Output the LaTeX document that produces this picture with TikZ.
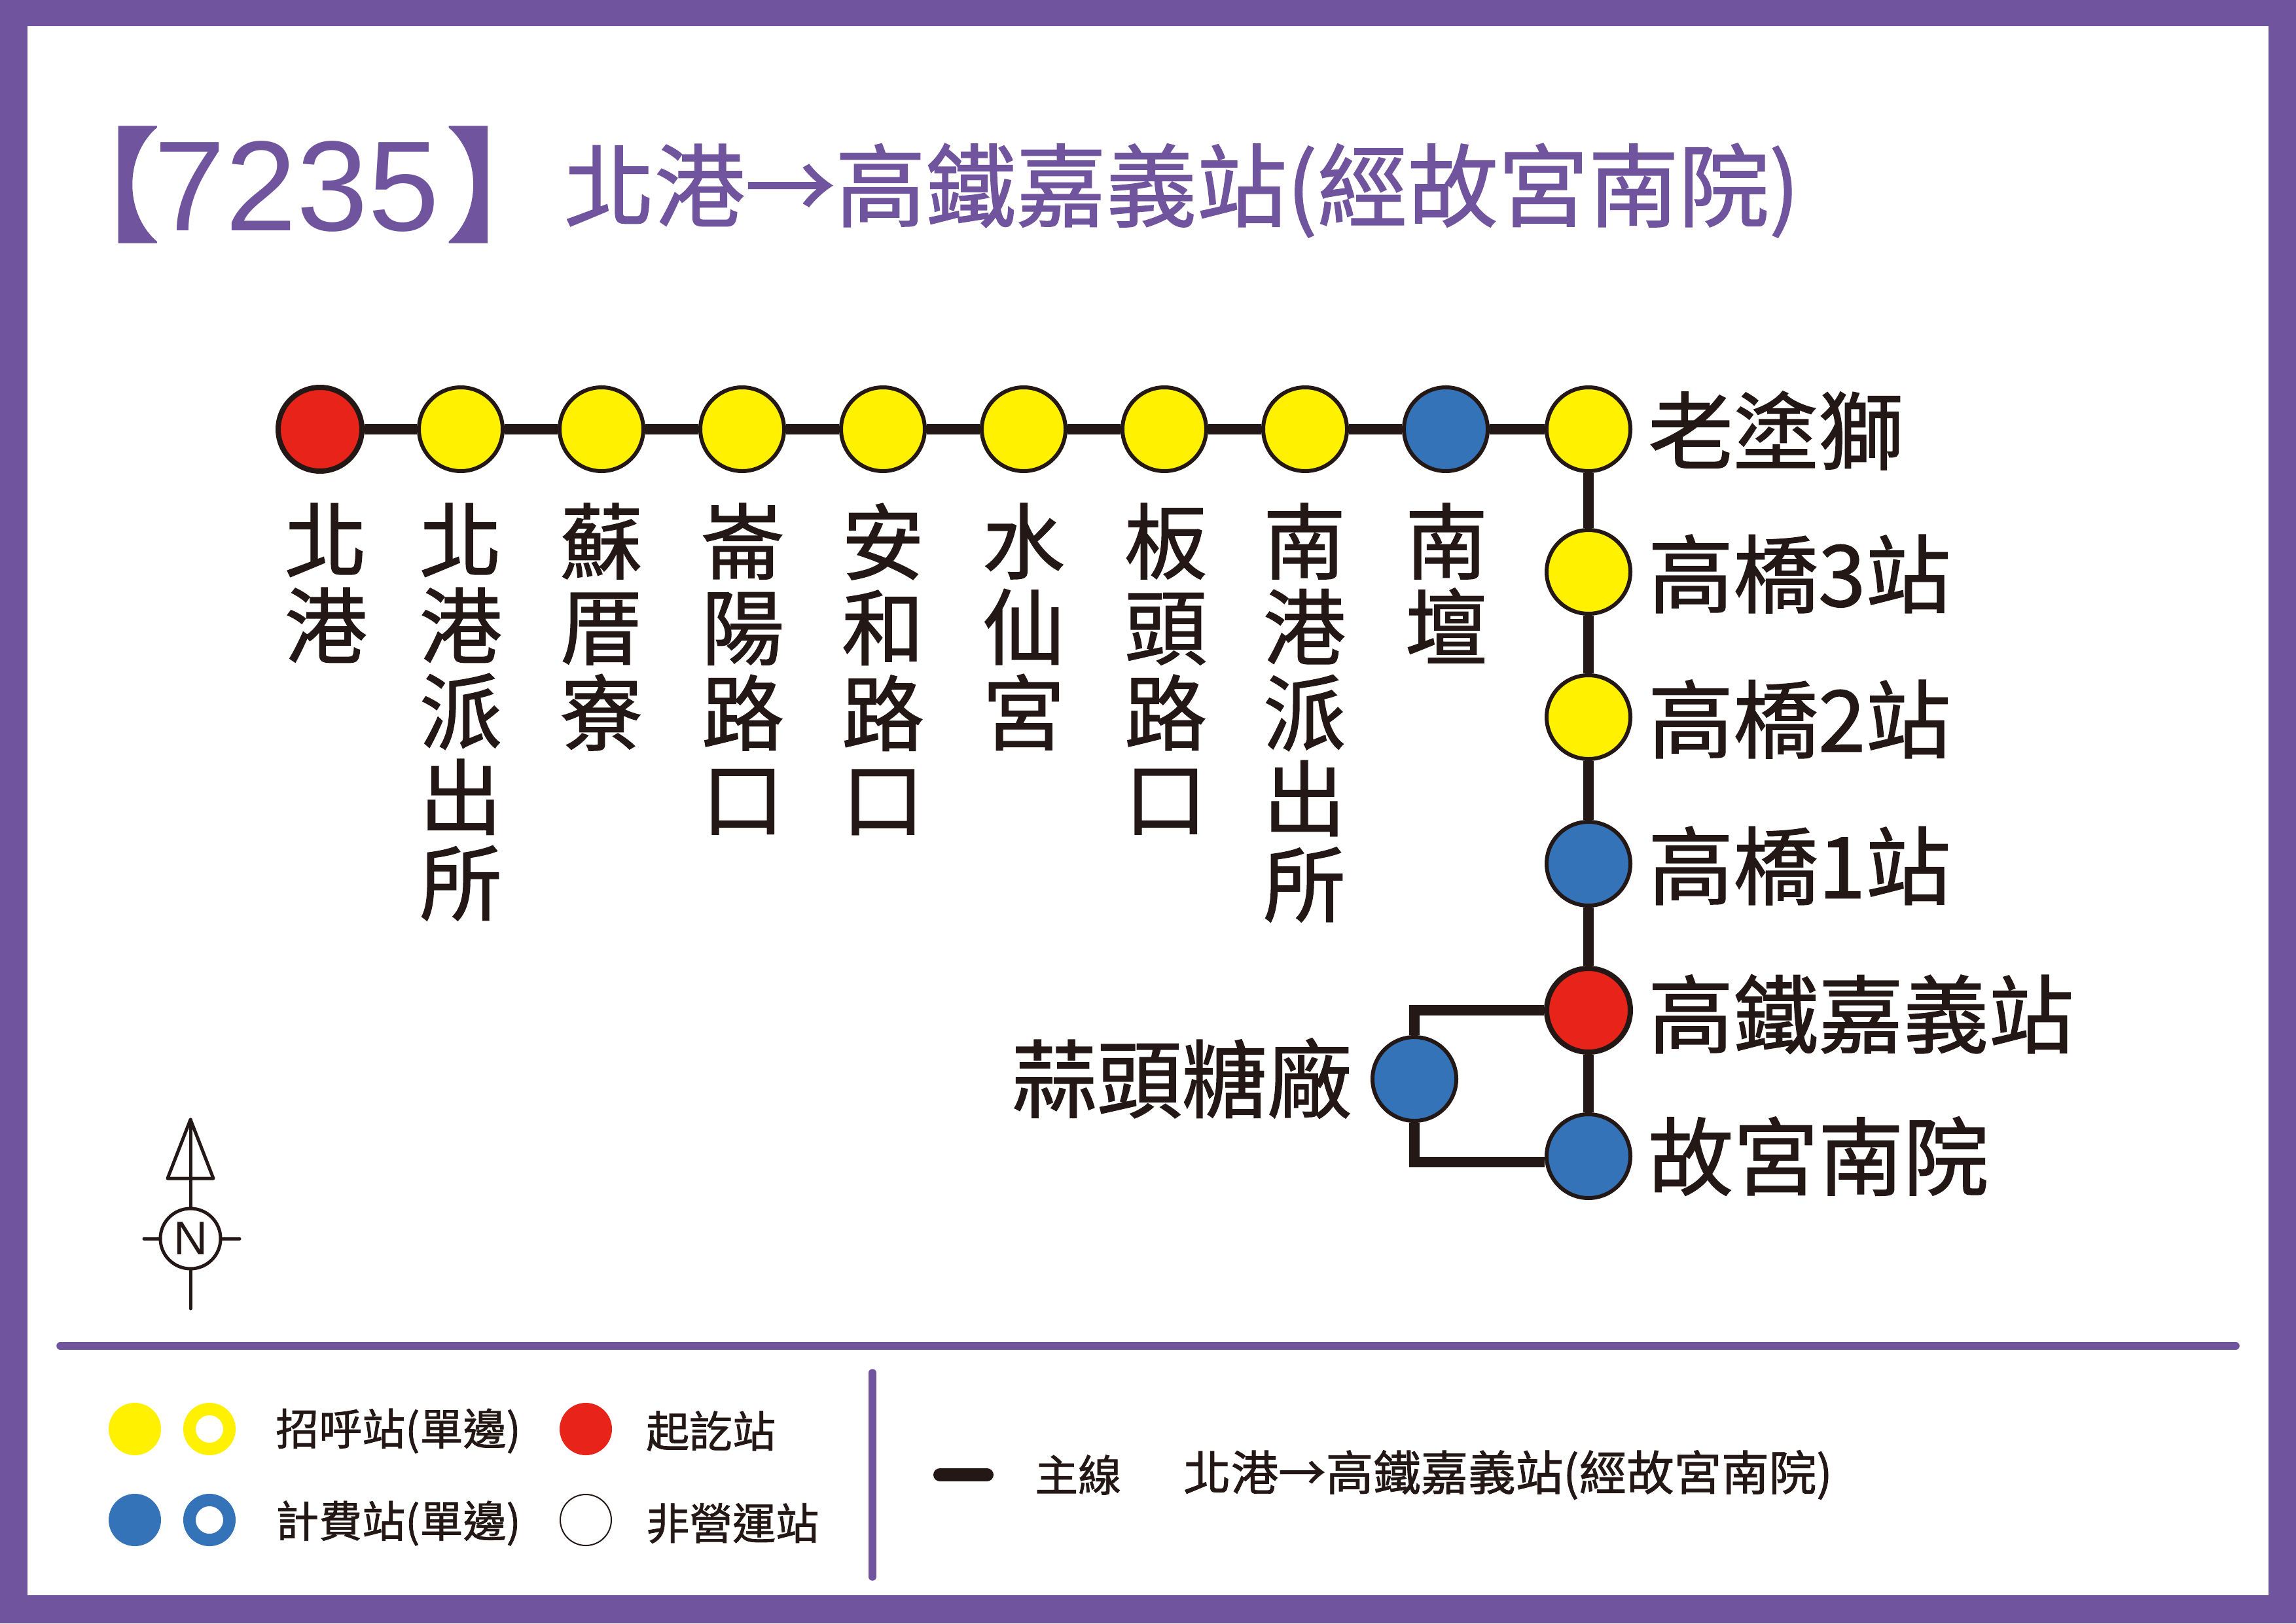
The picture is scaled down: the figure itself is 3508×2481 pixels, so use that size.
\documentclass[tikz,border=0pt]{standalone}
\usepackage{fontspec}
\setmainfont{Noto Sans CJK TC}[FakeBold=1.2]
\newfontfamily\latinfont{Liberation Sans}
\usetikzlibrary{shapes, calc, positioning}
\definecolor{routepurple}{HTML}{71549E}
\definecolor{stopyellow}{HTML}{FFF100}
\definecolor{stopred}{HTML}{E8231A}
\definecolor{stopblue}{HTML}{3573B9}
\definecolor{ink}{HTML}{231815}
\tikzset{
  stn/.style={circle, draw=ink, line width=6pt, minimum size=128pt, inner sep=0pt},
  yellowstn/.style={stn, fill=stopyellow},
  bluestn/.style={stn, fill=stopblue},
  redstn/.style={stn, fill=stopred, line width=8pt},
  mainline/.style={draw=ink, line width=16pt},
  vlabel/.style={anchor=north, align=center, inner sep=0pt, text=ink, font=\fontsize{126}{131}\selectfont},
  hlabel/.style={anchor=west, inner sep=0pt, text=ink, font=\fontsize{130}{134}\selectfont},
  keytext/.style={anchor=west, inner sep=0pt, text=ink, font=\fontsize{66}{70}\selectfont},
  keydot/.style={circle, minimum size=80pt, inner sep=0pt},
  keyring/.style={circle, minimum size=61pt, inner sep=0pt, line width=19pt, fill=white},
  rule/.style={draw=routepurple, line width=11.5pt, line cap=round},
}
\begin{document}
\begin{tikzpicture}[x=1pt, y=-1pt]
    \useasboundingbox (0,0) rectangle (3508,2481);
    \fill[routepurple] (0,0) rectangle (3508,2481);
    \fill[white] (42,40) rectangle (3466,2438);

    % title
    \node[anchor=west, inner sep=0pt, text=routepurple, font=\fontsize{190}{200}\selectfont] at (55,282) (number)
        {【\kern-10pt\raisebox{2pt}{\latinfont\fontsize{196}{200}\selectfont 7235}\kern9pt】\kern-70pt};
    \node[anchor=west, inner sep=0pt, text=routepurple, font=\fontsize{138}{140}\selectfont] at (862,291) (title)
        {北港→高鐵嘉義站(經故宮南院)};

    % stations along the top
    \node[redstn] at (489,656) (beigang) {};
    \node[yellowstn] at (704,656) (police) {};
    \node[yellowstn] at (919,656) (sucuo) {};
    \node[yellowstn] at (1134,656) (lunyang) {};
    \node[yellowstn] at (1349,656) (anhe) {};
    \node[yellowstn] at (1564,656) (shuixian) {};
    \node[yellowstn] at (1779,656) (bantou) {};
    \node[yellowstn] at (1994,656) (nangang) {};
    \node[bluestn] at (2209,656) (nantan) {};
    \node[yellowstn] at (2427,656) (lions) {};

    % stations down the right
    \node[yellowstn] at (2427,874) (bridge3) {};
    \node[yellowstn] at (2427,1096) (bridge2) {};
    \node[bluestn] at (2427,1320) (bridge1) {};
    \node[redstn] at (2427,1544) (hsr) {};
    \node[bluestn] at (2427,1767) (palace) {};
    \node[bluestn] at (2161,1649) (sugar) {};

    \draw[mainline] (beigang) -- (police);
    \draw[mainline] (police) -- (sucuo);
    \draw[mainline] (sucuo) -- (lunyang);
    \draw[mainline] (lunyang) -- (anhe);
    \draw[mainline] (anhe) -- (shuixian);
    \draw[mainline] (shuixian) -- (bantou);
    \draw[mainline] (bantou) -- (nangang);
    \draw[mainline] (nangang) -- (nantan);
    \draw[mainline] (nantan) -- (lions);
    \draw[mainline] (lions) -- (bridge3);
    \draw[mainline] (bridge3) -- (bridge2);
    \draw[mainline] (bridge2) -- (bridge1);
    \draw[mainline] (bridge1) -- (hsr);
    \draw[mainline] (hsr) -- (palace);
    \draw[mainline] (sugar) |- (hsr);
    \draw[mainline] (sugar) |- ($(palace.west)+(0,9)$);

    % labels
    \node[vlabel] at (498,769) (lbbeigang) {北\\港};
    \node[vlabel] at (704,769) (lbpolice) {北\\港\\派\\出\\所};
    \node[vlabel] at (919,769) (lbsucuo) {蘇\\厝\\寮};
    \node[vlabel] at (1135,769) (lblunyang) {崙\\陽\\路\\口};
    \node[vlabel] at (1349,769) (lbanhe) {安\\和\\路\\口};
    \node[vlabel] at (1564,769) (lbshuixian) {水\\仙\\宮};
    \node[vlabel] at (1781,769) (lbbantou) {板\\頭\\路\\口};
    \node[vlabel] at (1993,769) (lbnangang) {南\\港\\派\\出\\所};
    \node[vlabel] at (2210,769) (lbnantan) {南\\壇};
    \node[hlabel] at (2518,658) (lblions) {老塗獅};
    \node[hlabel] at (2518,877) (lbbridge3) {高橋3站};
    \node[hlabel] at (2518,1099) (lbbridge2) {高橋2站};
    \node[hlabel] at (2518,1323) (lbbridge1) {高橋1站};
    \node[hlabel] at (2518,1550) (lbhsr) {高鐵嘉義站};
    \node[hlabel] at (2518,1767) (lbpalace) {故宮南院};
    \node[hlabel, anchor=east] at (2066,1648) (lbsugar) {蒜頭糖廠};

    % compass
    \node[circle, draw=ink, line width=5pt, minimum size=92pt, inner sep=0pt, text=ink,
        font=\latinfont\fontsize{72}{72}\selectfont] at (291,1893) (compass) {N};
    \coordinate (tip) at (291,1711);
    \coordinate (tail) at (291,2000);
    \coordinate (eastend) at (366,1893);
    \coordinate (westend) at (220,1893);
    \draw[ink, line width=5pt, line cap=round] (compass) -- (tail);
    \draw[ink, line width=5pt, line cap=round] (compass) -- (eastend);
    \draw[ink, line width=5pt, line cap=round] (compass) -- (westend);
    \draw[ink, line width=5pt, line cap=round] (compass) -- (tip);
    \draw[ink, line width=5pt, line join=round] (tip) -- (256,1801) -- (326,1801) -- cycle;

    % key
    \coordinate (ruleleft) at (92,2057);
    \coordinate (ruleright) at (3416,2057);
    \coordinate (dividertop) at (1333,2098);
    \coordinate (dividerbottom) at (1333,2410);
    \draw[rule] (ruleleft) -- (ruleright);
    \draw[rule] (dividertop) -- (dividerbottom);
    \node[keydot, fill=stopyellow] at (206,2184) (keyyellow) {};
    \node[keyring, draw=stopyellow] at (320,2184) (keyyellowring) {};
    \node[keydot, fill=stopblue] at (206,2323) (keyblue) {};
    \node[keyring, draw=stopblue] at (320,2323) (keybluering) {};
    \node[keydot, fill=stopred] at (895,2184) (keyred) {};
    \node[keydot, draw=ink, line width=2pt, minimum size=78pt] at (895,2323) (keywhite) {};
    \node[keytext] at (421,2187) (lbhail) {招呼站(單邊)};
    \node[keytext] at (421,2328) (lbfare) {計費站(單邊)};
    \node[keytext] at (987,2187) (lbterminal) {起訖站};
    \node[keytext] at (987,2328) (lbclosed) {非營運站};
    \coordinate (dashleft) at (1436,2254);
    \coordinate (dashright) at (1508,2254);
    \draw[ink, line width=20pt, line cap=round] (dashleft) -- (dashright);
    \node[keytext] at (1581,2254) (lbmain) {主線};
    \node[keytext, font=\fontsize{72.5}{74}\selectfont] at (1808,2254) (lbroute) {北港→高鐵嘉義站(經故宮南院)};
\end{tikzpicture}
\end{document}
